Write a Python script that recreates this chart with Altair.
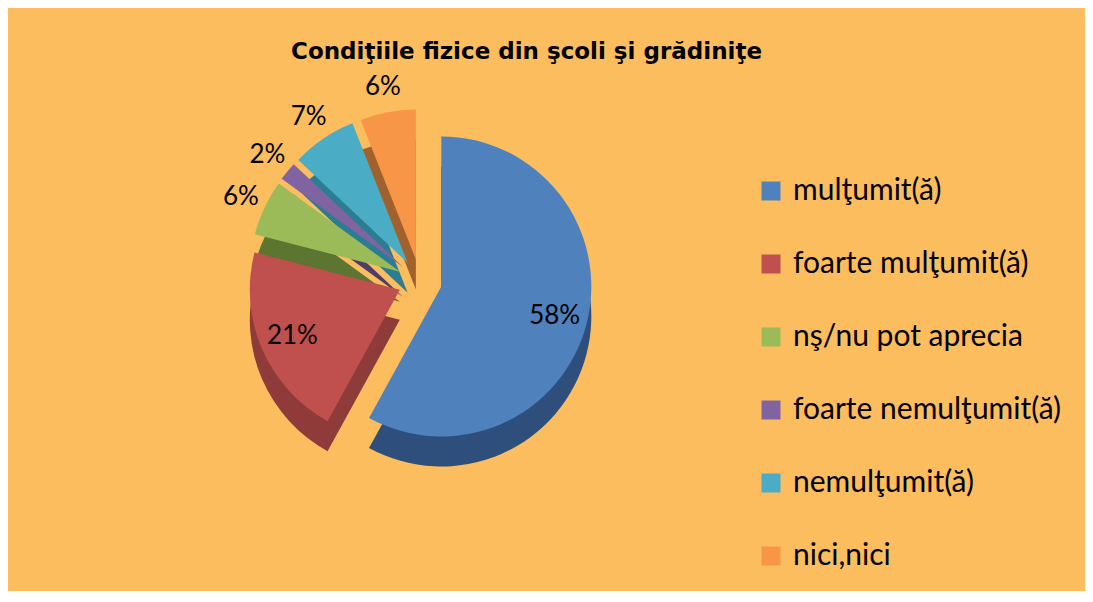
import altair as alt
import pandas as pd

# ---- data ----
categories = ["mulţumit(ă)", "foarte mulţumit(ă)", "nş/nu pot aprecia",
              "foarte nemulţumit(ă)", "nemulţumit(ă)", "nici,nici"]
values = [58, 21, 6, 2, 7, 6]
labels = ["58%", "21%", "6%", "2%", "7%", "6%"]
colors = ["#4F81BD", "#C0504D", "#9BBB59", "#8064A2", "#4BACC6", "#F79646"]
side_colors = ["#2E4F7C", "#8E3B39", "#5C7530", "#4E3C68", "#2B7D92", "#A0612C"]

df = pd.DataFrame({
    "cat": categories,
    "value": values,
    "label": labels,
    "dark": side_colors,
    "order": list(range(len(values))),
})

# ---- layout / style ----
W, H = 1077, 480
CX, CY = 412, 170          # pie centre inside plot area (px)
R = 150                    # pie radius
E = 22                     # explode distance
D = 30                     # 3-D depth
BG = "#FBBD5E"
FONT = "Lato"

xs = alt.Scale(domain=[-CX, W - CX], range=[0, W])
ys = alt.Scale(domain=[-(H - CY), CY], range=[H, 0])
ts = alt.Scale(domain=[0, 100], range=[0, 6.283185307179586])

base = (
    alt.Chart(df)
    .transform_window(end="sum(value)", frame=[None, 0], sort=[alt.SortField("order")])
    .transform_calculate(
        start="datum.end - datum.value",
        midv="(datum.end - datum.value / 2)",
    )
    .transform_calculate(
        ang="datum.midv * 2 * PI / 100",
    )
    .transform_calculate(
        ox=f"{E} * sin(datum.ang)",
        oy=f"{E} * cos(datum.ang)",
        oyd=f"{E} * cos(datum.ang) - {D}",
        lr=f"datum.value >= 15 ? {R} * 0.78 : {R} + 26",
    )
)

side = base.mark_arc(outerRadius=R).encode(
    x=alt.X("ox:Q", scale=xs, axis=None),
    y=alt.Y("oyd:Q", scale=ys, axis=None),
    theta=alt.Theta("start:Q", scale=ts, stack=None),
    theta2="end:Q",
    fill=alt.Fill("dark:N", scale=None, legend=None),
)

top = base.mark_arc(outerRadius=R).encode(
    x=alt.X("ox:Q", scale=xs, axis=None),
    y=alt.Y("oy:Q", scale=ys, axis=None),
    theta=alt.Theta("start:Q", scale=ts, stack=None),
    theta2="end:Q",
    color=alt.Color(
        "cat:N",
        scale=alt.Scale(domain=categories, range=colors),
        sort=categories,
        legend=alt.Legend(
            title=None,
            orient="none",
            legendX=748,
            legendY=65,
            symbolType="square",
            symbolSize=361,
            symbolStrokeWidth=0,
            labelFont=FONT,
            labelFontSize=30,
            labelColor="#000000",
            labelLimit=400,
            rowPadding=43,
            labelOffset=7,
        ),
    ),
)

text = base.mark_text(font=FONT, fontSize=26, color="#000000").encode(
    x=alt.X("ox:Q", scale=xs, axis=None),
    y=alt.Y("oy:Q", scale=ys, axis=None),
    theta=alt.Theta("midv:Q", scale=ts, stack=None),
    radius=alt.Radius("lr:Q", scale=None),
    text="label:N",
)

chart = (
    alt.layer(side, top, text)
    .resolve_scale(color="independent", fill="independent")
    .properties(
        width=W,
        height=H,
        background=BG,
        padding={"top": 32, "left": 0, "right": 0, "bottom": 0},
        title=alt.TitleParams(
            "Condiţiile fizice din şcoli şi grădiniţe",
            font="DejaVu Sans",
            fontSize=23,
            fontWeight="bold",
            color="#000000",
            offset=10,
            dx=-20,
        ),
    )
    .configure_view(stroke=None)
)

chart.save("out.html", embed_options={"renderer": "svg", "actions": False})
